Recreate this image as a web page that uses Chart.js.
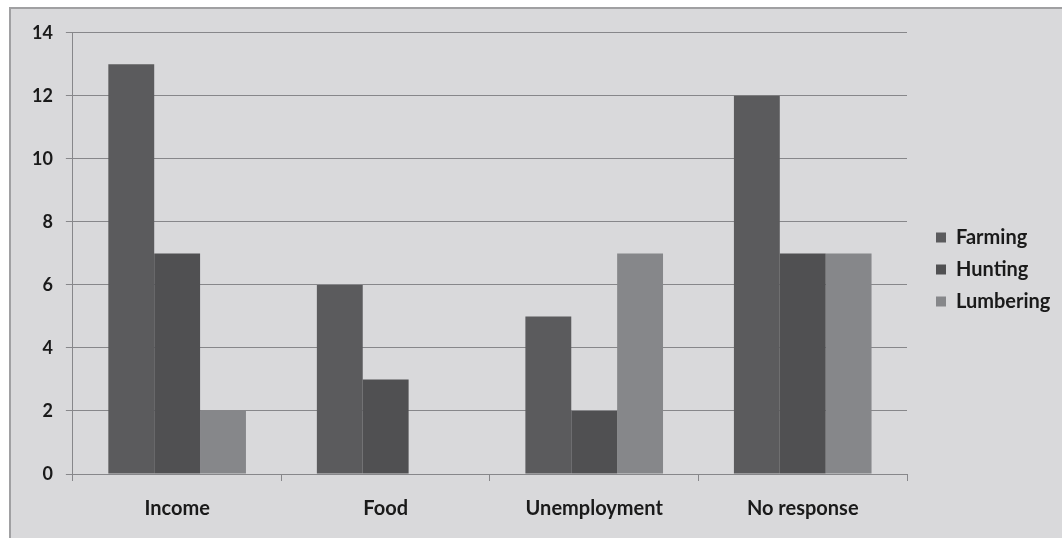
<!DOCTYPE html>
<html>
<head>
<meta charset="utf-8">
<script src="https://cdn.jsdelivr.net/npm/chart.js@4"></script>
<style>
  body { margin: 0; background: #fff; overflow: hidden; }
  #box {
    position: absolute; left: 9px; top: 7px;
    width: 1060px; height: 540px;
    background: #d9d9db;
    border: 2px solid #a0a0a2;
    box-sizing: border-box;
  }
  #wrap { position: absolute; left: 0; top: 0; width: 1056px; height: 536px; }
</style>
</head>
<body>
<div id="box"><div id="wrap"><canvas id="myChart"></canvas></div></div>
<script>
const categories = ['Income', 'Food', 'Unemployment', 'No response'];
const farming = [13, 6, 5, 12];
const hunting = [7, 3, 2, 7];
const lumbering = [2, 0, 7, 7];
const seriesNames = ['Farming', 'Hunting', 'Lumbering'];

const xFont = { family: 'Lato', size: 20, weight: 'bold' };
const yFont = { family: 'Lato', size: 18, weight: 'bold' };
const gridColor = '#87878a';

// fixed-width legend column, items pushed away from the plot like the original
const legendShift = {
    id: 'legendShift',
    afterInit(chart) {
        const lg = chart.legend;
        const fit = lg.fit;
        lg.fit = function () {
            fit.call(this);
            this.width = 160;
        };
    },
    afterLayout(chart) {
        const lg = chart.legend;
        const w = lg.width;
        lg.left = chart.chartArea.right + 17;
        lg.right = lg.left + w;
        lg.top -= 12;
        lg.bottom -= 12;
    }
};

const data = {
    labels: categories,
    datasets: [{
            label: seriesNames[0],
            data: farming,
            backgroundColor: '#5b5b5d',
            borderWidth: 0
        },
        {
            label: seriesNames[1],
            data: hunting,
            backgroundColor: '#505052',
            borderWidth: 0
        },
        {
            label: seriesNames[2],
            data: lumbering,
            backgroundColor: '#86878a',
            borderWidth: 0
        }
    ]
};

const config = {
    type: 'bar',
    data: data,
    plugins: [legendShift],
    options: {
        responsive: true,
        maintainAspectRatio: false,
        animation: false,
        layout: { padding: { top: 17, left: 8, right: 0, bottom: 8 } },
        datasets: { bar: { categoryPercentage: 0.66, barPercentage: 1 } },
        plugins: {
            tooltip: { enabled: false },
            legend: {
                position: 'right',
                labels: {
                    boxWidth: 10,
                    boxHeight: 10,
                    padding: 12,
                    color: '#1a1a1a',
                    font: xFont
                }
            }
        },
        scales: {
            x: {
                grid: { drawOnChartArea: false, color: gridColor, tickLength: 7 },
                border: { color: gridColor, width: 1 },
                ticks: { color: '#1a1a1a', font: xFont, padding: 16 }
            },
            y: {
                min: 0,
                max: 14,
                ticks: { stepSize: 2, color: '#1a1a1a', font: yFont, padding: 13 },
                grid: { color: gridColor, tickLength: 7 },
                border: { color: gridColor, width: 1 }
            }
        }
    }
};

new Chart(document.getElementById('myChart'), config);
</script>
</body>
</html>
